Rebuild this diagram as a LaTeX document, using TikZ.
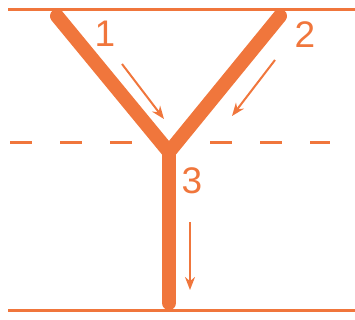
\documentclass[tikz,border=0pt]{standalone}
\usepackage{fontspec}
\setmainfont{Liberation Sans}
\usetikzlibrary{arrows.meta}
\definecolor{org}{RGB}{240,118,60}
\tikzset{
  rail/.style={draw=org, line width=3pt},
  arm/.style={draw=org, line width=14pt, line cap=round, line join=round},
  flow/.style={draw=org, line width=2pt, -{Stealth[length=13pt,width=10pt]}},
  lab/.style={text=org, font=\fontsize{37}{40}\selectfont, inner sep=0pt}
}
\begin{document}
\begin{tikzpicture}[x=1pt,y=-1pt]
\useasboundingbox (0,0) rectangle (355,320);
\coordinate (tl) at (8,10); \coordinate (tr) at (355,10);
\coordinate (bl) at (8,310); \coordinate (br) at (355,310);
\coordinate (dl) at (10,143); \coordinate (dr) at (330,143);
\draw[rail] (tl) -- (tr);
\draw[rail] (bl) -- (br);
\draw[draw=org, line width=3pt, dash pattern=on 22pt off 28pt] (dl) -- (dr);
\coordinate (a1) at (57,16);
\coordinate (a2) at (280,16);
\coordinate (j) at (169,152);
\coordinate (s) at (169,303);
\draw[arm] (a1) -- (j) -- (a2);
\draw[arm] (j) -- (s);
\coordinate (f1s) at (122,64); \coordinate (f1e) at (164,119);
\coordinate (f2s) at (275,60); \coordinate (f2e) at (232,116);
\coordinate (f3s) at (190,222); \coordinate (f3e) at (190,290);
\draw[flow] (f1s) -- (f1e);
\draw[flow] (f2s) -- (f2e);
\draw[flow] (f3s) -- (f3e);
\node[lab] (n1) at (105,34) {1};
\node[lab] (n2) at (305,35) {2};
\node[lab] (n3) at (192,181) {3};
\end{tikzpicture}
\end{document}
